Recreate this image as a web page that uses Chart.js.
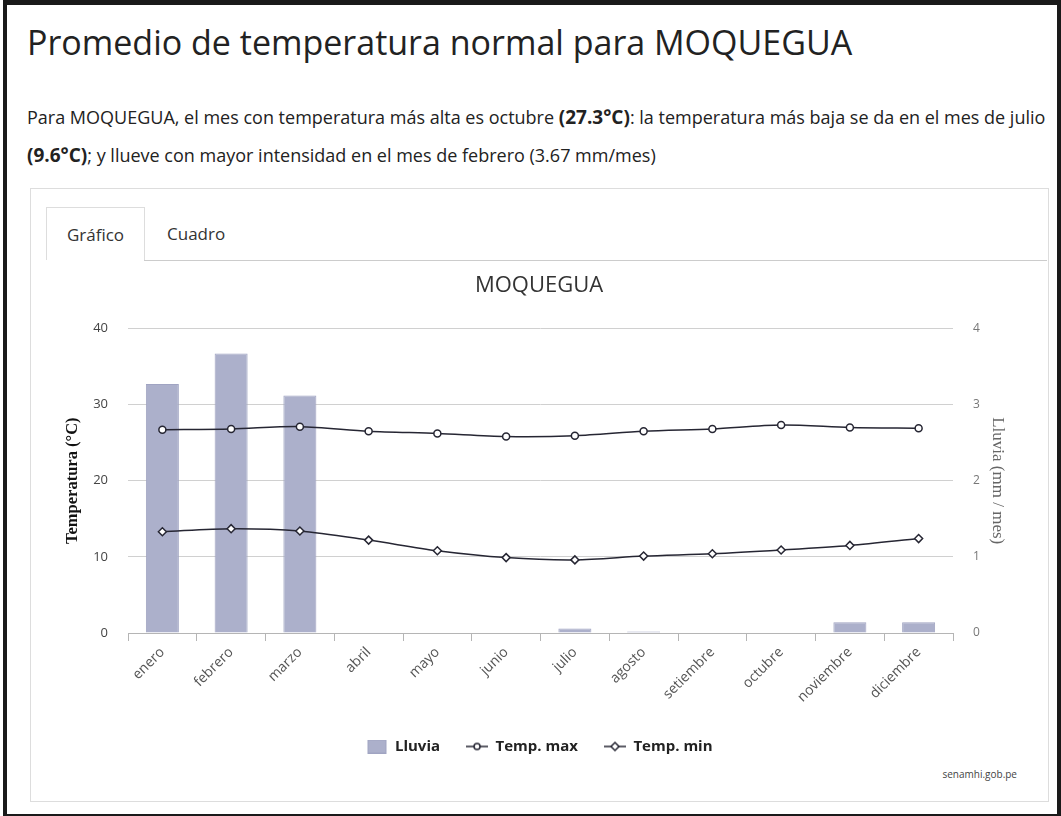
<!DOCTYPE html>
<html>
<head>
<meta charset="utf-8">
<script src="https://cdn.jsdelivr.net/npm/chart.js@4.4.0/dist/chart.umd.min.js"></script>
<style>
  body { margin: 0; background: #fff; font-family: "Open Sans", sans-serif; }
  #frame { position: absolute; left: 3px; top: 0; width: 1050px; height: 809px; border: 4px solid #1a1a1a; border-top-width: 5px; }
  h1 { position: absolute; left: 27px; top: 19px; margin: 0; font-weight: 400; font-size: 34px; color: #222; white-space: nowrap; }
  p.desc { position: absolute; left: 27px; top: 99px; margin: 0; font-size: 18px; line-height: 37.5px; color: #222; white-space: nowrap; }
  p.desc b { font-size: 19px; }
  #panel { position: absolute; left: 30px; top: 188px; width: 1017px; height: 612px; border: 1px solid #ddd; }
  .tab { position: absolute; top: 207px; height: 52px; line-height: 54px; font-size: 17px; color: #333; }
  #t1 { left: 46px; width: 97px; text-align: center; border: 1px solid #ddd; border-bottom: none; background: #fff; }
  #t2 { left: 167px; }
  #tabline { position: absolute; left: 144px; top: 260px; width: 903px; border-top: 1px solid #ccc; }
  #wrap { position: absolute; left: 32px; top: 266px; width: 1014px; height: 498px; }
  #credit { position: absolute; right: 44px; top: 767px; font-size: 10px; color: #444; }
</style>
</head>
<body>
<div id="frame"></div>
<h1>Promedio de temperatura normal para MOQUEGUA</h1>
<p class="desc">Para MOQUEGUA, el mes con temperatura más alta es octubre <b>(27.3°C)</b>: la temperatura más baja se da en el mes de julio<br><b>(9.6°C)</b>; y llueve con mayor intensidad en el mes de febrero (3.67 mm/mes)</p>
<div id="panel"></div>
<div class="tab" id="t1">Gráfico</div>
<div class="tab" id="t2">Cuadro</div>
<div id="tabline"></div>
<div id="wrap"><canvas id="chart"></canvas></div>
<div id="credit">senamhi.gob.pe</div>
<script>
const meses = ["enero", "febrero", "marzo", "abril", "mayo", "junio", "julio", "agosto", "setiembre", "octubre", "noviembre", "diciembre"];
const lluvia = [3.27, 3.67, 3.12, 0, 0, 0, 0.06, 0.02, 0, 0, 0.14, 0.14];
const tempMax = [26.7, 26.8, 27.1, 26.5, 26.2, 25.8, 25.9, 26.5, 26.8, 27.3, 27.0, 26.9];
const tempMin = [13.3, 13.7, 13.4, 12.2, 10.8, 9.9, 9.6, 10.1, 10.4, 10.9, 11.5, 12.4];
const ticksTemp = [0, 10, 20, 30, 40];
const ticksLluvia = [0, 1, 2, 3, 4];

const barColor = "#acb0cb";
const lineColor = "#262633";

// iconos de la leyenda
function icono(tipo) {
    let c = document.createElement("canvas");
    c.width = 22; c.height = 14;
    let g = c.getContext("2d");
    if (tipo === "bar") {
        g.fillStyle = barColor;
        g.fillRect(2, 0, 19, 14);
        g.strokeStyle = "#a0a4c2";
        g.strokeRect(2.5, 0.5, 18, 13);
        return c;
    }
    g.strokeStyle = lineColor;
    g.lineWidth = 1.5;
    g.beginPath(); g.moveTo(0, 7); g.lineTo(22, 7); g.stroke();
    g.fillStyle = "#fff";
    g.beginPath();
    if (tipo === "circle") {
        g.arc(11, 7, 3, 0, Math.PI * 2);
    } else {
        g.moveTo(11, 3); g.lineTo(15, 7); g.lineTo(11, 11); g.lineTo(7, 7); g.closePath();
    }
    g.fill(); g.stroke();
    return c;
}
const iconos = [icono("bar"), icono("circle"), icono("diamond")];

let ctx = document.getElementById("chart").getContext("2d");
new Chart(ctx, {
    data: {
        labels: meses,
        datasets: [
            {
                type: "line", label: "Temp. max", data: tempMax, yAxisID: "y",
                borderColor: lineColor, borderWidth: 1.5, tension: 0.3,
                pointStyle: "circle", pointRadius: 3.5, pointBorderWidth: 1.5,
                pointBackgroundColor: "#fff", pointBorderColor: lineColor, order: 1
            },
            {
                type: "line", label: "Temp. min", data: tempMin, yAxisID: "y",
                borderColor: lineColor, borderWidth: 1.5, tension: 0.3,
                pointStyle: "rectRot", pointRadius: 4, pointBorderWidth: 1.5,
                pointBackgroundColor: "#fff", pointBorderColor: lineColor, order: 2
            },
            {
                type: "bar", label: "Lluvia", data: lluvia, yAxisID: "y1",
                backgroundColor: barColor, borderColor: "#a0a4c2", borderWidth: 1,
                categoryPercentage: 1, barPercentage: 0.48, order: 3
            }
        ]
    },
    options: {
        responsive: true,
        maintainAspectRatio: false,
        animation: false,
        layout: { padding: 0 },
        plugins: {
            title: {
                display: true, text: "MOQUEGUA", color: "#333",
                font: { family: "Open Sans", size: 22, weight: "normal" },
                padding: { top: 7, bottom: 29 }
            },
            legend: {
                position: "bottom",
                labels: {
                    usePointStyle: true, pointStyleWidth: 22, padding: 26,
                    color: "#222",
                    font: { family: "Open Sans", size: 15, weight: "bold" },
                    generateLabels: function (chart) {
                        let orden = [2, 0, 1];
                        return orden.map((i, k) => ({
                            text: chart.data.datasets[i].label,
                            datasetIndex: i,
                            pointStyle: iconos[k],
                            fillStyle: "transparent", strokeStyle: "transparent",
                            lineWidth: 0, fontColor: "#222"
                        }));
                    }
                }
            },
            tooltip: { enabled: false }
        },
        scales: {
            x: {
                grid: { offset: true, drawOnChartArea: false, drawTicks: true, tickLength: 8, color: "#b5b5b5" },
                border: { color: "#b5b5b5" },
                ticks: {
                    maxRotation: 45, minRotation: 45, color: "#555",
                    font: { family: "Open Sans", size: 14 }
                },
                afterFit: function (s) { s.height = 80; }
            },
            y: {
                position: "left", min: 0, max: 40,
                afterBuildTicks: function (s) { s.ticks = ticksTemp.map(v => ({ value: v })); },
                grid: { color: "#d0d0d0", drawTicks: false },
                border: { display: false },
                ticks: { padding: 20, color: "#444", font: { family: "Open Sans", size: 13 } },
                title: {
                    display: true, text: "Temperatura (°C)", color: "#111",
                    font: { family: "Liberation Serif", size: 16.5, weight: "bold" },
                    padding: { top: 31, bottom: 4 }
                },
                afterFit: function (s) { s.width = 96; }
            },
            y1: {
                position: "right", min: 0, max: 4,
                afterBuildTicks: function (s) { s.ticks = ticksLluvia.map(v => ({ value: v })); },
                grid: { drawOnChartArea: false, drawTicks: false },
                border: { display: false },
                ticks: { padding: 20, color: "#777", font: { family: "Open Sans", size: 12 } },
                title: {
                    display: true, text: "Lluvia (mm / mes)", color: "#666",
                    font: { family: "Liberation Serif", size: 17 },
                    padding: { top: 38, bottom: 4 }
                },
                afterFit: function (s) { s.width = 93; }
            }
        }
    }
});
</script>
</body>
</html>
